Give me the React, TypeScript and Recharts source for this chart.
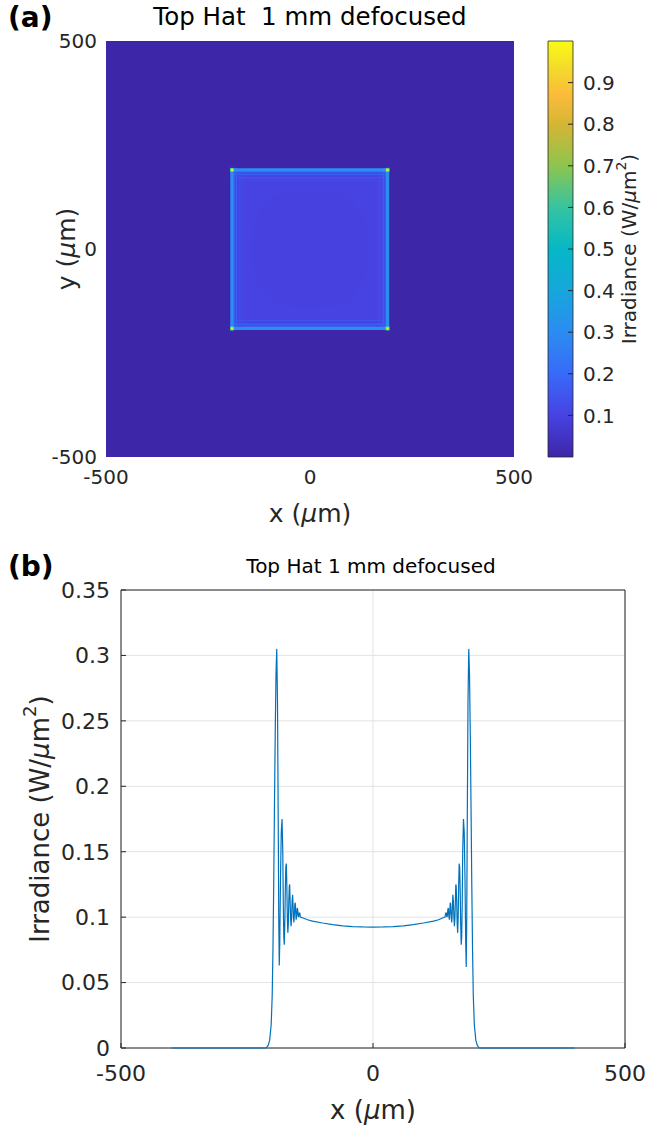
import React from 'react';
import {
  ScatterChart,
  Scatter,
  LineChart,
  ComposedChart,
  Line,
  XAxis,
  YAxis,
  CartesianGrid,
  ReferenceArea,
  Label,
} from 'recharts';

const FONT = '"DejaVu Sans", sans-serif';
const INK = '#262626';
const LINE_BLUE = '#0072bd';

// parula-like colour map (value -> colour)
const parulaStops: [number, string][] = [
  [0.0, '#3e26a8'],
  [0.1, '#4742e2'],
  [0.2, '#386af9'],
  [0.3, '#2b8cf1'],
  [0.4, '#17a6dc'],
  [0.5, '#05b8c6'],
  [0.6, '#35c4a0'],
  [0.7, '#8dc54f'],
  [0.8, '#d6b534'],
  [0.87, '#fbbb3b'],
  [0.93, '#f4d82c'],
  [1.0, '#f9fb15'],
];

// ---- panel (a): 2D irradiance map, µm and W/µm²
const mapTicks = [-500, 0, 500];
const squareSide = [-195, 194];
const centerSide = [-140, 140];
const backgroundLevel = 0.0;
const interiorLevel = 0.1;
const centerLevel = 0.096;
// fringe lines along each edge, outermost (the edge itself) first
const fringeLow = [-191, -180.5, -172, -165.5];
const fringeHigh = [190, 179.5, 171, 164.5];
const fringeWidth = [7.5, 3, 2.5, 2];
const fringeLevel = [0.32, 0.18, 0.145, 0.125];
const edgeHaloLevel = 0.17;
const cornerLevel = 0.97;
const cornerHaloLevel = 0.6;

// colourbar
const barTicks = [0.1, 0.2, 0.3, 0.4, 0.5, 0.6, 0.7, 0.8, 0.9];
const barRange = [0, 1];

// ---- panel (b): cut through y = 0
const profileTicksX = [-500, 0, 500];
const profileTicksY = [0, 0.05, 0.1, 0.15, 0.2, 0.25, 0.3, 0.35];
const profileX = [
  -400, -212, -208, -205, -202, -200, -198.5, -197, -195.5, -194, -192.5, -191,
  -189.5, -188, -187, -186, -185, -183.5, -182, -180.5, -179, -178, -177, -176,
  -175, -174, -173, -172, -171, -170, -169, -168, -167, -166, -165.3, -164.5,
  -163.5, -162.5, -161.5, -160.5, -159.5, -158.7, -157.8, -157, -156, -155,
  -154.2, -153.4, -152.5, -151.5, -150.5, -149.5, -148.5, -147.5, -146.5,
  -145.3, -144, -140, -130, -120, -100, -80, -60, -40, -20, 0,
  20, 40, 60, 80, 100, 120, 130, 139, 143, 144.3, 145.5, 146.5, 147.5, 148.5,
  149.5, 150.5, 151.5, 152.4, 153.2, 154, 155, 156, 156.8, 157.7, 158.5, 159.5,
  160.5, 161.5, 162.5, 163.5, 164.3, 165, 166, 167, 168, 169, 170, 171, 172,
  173, 174, 175, 176, 177, 178, 179.5, 181, 182.5, 184, 185, 186, 187, 188.5,
  190, 191.5, 193, 194.5, 196, 197.5, 199, 201, 204, 207, 211, 400,
];
const profileY = [
  0, 0, 0.002, 0.006, 0.018, 0.04, 0.075, 0.125, 0.185, 0.24, 0.285, 0.305,
  0.265, 0.17, 0.1, 0.063, 0.08, 0.13, 0.165, 0.175, 0.15, 0.11, 0.085, 0.079,
  0.095, 0.12, 0.138, 0.141, 0.125, 0.1, 0.088, 0.095, 0.113, 0.124, 0.125, 0.113,
  0.099, 0.093, 0.1, 0.112, 0.117, 0.11, 0.099, 0.096, 0.102, 0.11,
  0.111, 0.104, 0.098, 0.101, 0.107, 0.106, 0.101, 0.1, 0.103,
  0.103, 0.1, 0.0995, 0.098, 0.097, 0.0955, 0.0943, 0.0934, 0.0928, 0.0925, 0.0924,
  0.0925, 0.0928, 0.0934, 0.0943, 0.0955, 0.097, 0.098, 0.0995, 0.1, 0.103, 0.103, 0.1, 0.101, 0.106,
  0.107, 0.101, 0.098, 0.104, 0.111, 0.11, 0.102, 0.096, 0.099, 0.11, 0.117, 0.112,
  0.1, 0.093, 0.099, 0.113, 0.125, 0.124, 0.113, 0.095, 0.088, 0.1, 0.125, 0.141, 0.138,
  0.12, 0.095, 0.079, 0.085, 0.11, 0.15, 0.175, 0.165, 0.13, 0.08, 0.062, 0.1, 0.17, 0.265,
  0.305, 0.285, 0.24, 0.185, 0.125, 0.075, 0.04, 0.018, 0.006, 0.002, 0, 0,
];

const profileData = profileX.map((x, i) => ({ x, y: profileY[i] }));
// the map extent as points, so the axes get a domain to work with
const mapExtent = mapTicks.map((t) => ({ x: t, y: t }));
const barExtent = barRange.map((v) => ({ x: v, v }));

function hexToRgb(h: string) {
  return [1, 3, 5].map((i) => parseInt(h.slice(i, i + 2), 16));
}

function parula(v: number) {
  const t = Math.max(0, Math.min(1, v));
  for (let i = 1; i < parulaStops.length; i++) {
    const [p1, c1] = parulaStops[i];
    const [p0, c0] = parulaStops[i - 1];
    if (t <= p1) {
      const f = (t - p0) / (p1 - p0);
      const a = hexToRgb(c0);
      const b = hexToRgb(c1);
      const c = a.map((ch, k) => Math.round(ch + (b[k] - ch) * f));
      return `rgb(${c[0]},${c[1]},${c[2]})`;
    }
  }
  return parulaStops[parulaStops.length - 1][1];
}

type Cell = { x1: number; x2: number; y1: number; y2: number; v: number; r?: number };

function buildCells(): Cell[] {
  const cells: Cell[] = [];
  const a = mapTicks[0];
  const b = mapTicks[mapTicks.length - 1];
  cells.push({ x1: a, x2: b, y1: a, y2: b, v: backgroundLevel });
  cells.push({ x1: squareSide[0], x2: squareSide[1], y1: squareSide[0], y2: squareSide[1], v: interiorLevel });
  cells.push({ x1: centerSide[0], x2: centerSide[1], y1: centerSide[0], y2: centerSide[1], v: centerLevel, r: 45 });

  const lo = squareSide[0];
  const hi = squareSide[1];
  // soft glow just inside each edge
  cells.push({ x1: lo, x2: fringeLow[0] + 7, y1: lo, y2: hi, v: edgeHaloLevel });
  cells.push({ x1: fringeHigh[0] - 7, x2: hi, y1: lo, y2: hi, v: edgeHaloLevel });
  cells.push({ x1: lo, x2: hi, y1: lo, y2: fringeLow[0] + 7, v: edgeHaloLevel });
  cells.push({ x1: lo, x2: hi, y1: fringeHigh[0] - 7, y2: hi, v: edgeHaloLevel });
  for (let i = fringeLow.length - 1; i >= 0; i--) {
    const w = fringeWidth[i] / 2;
    const v = fringeLevel[i];
    for (const c of [fringeLow[i], fringeHigh[i]]) {
      cells.push({ x1: c - w, x2: c + w, y1: lo, y2: hi, v });
      cells.push({ x1: lo, x2: hi, y1: c - w, y2: c + w, v });
    }
  }
  for (const cx of [fringeLow[0], fringeHigh[0]]) {
    for (const cy of [fringeLow[0], fringeHigh[0]]) {
      cells.push({ x1: cx - 5, x2: cx + 5, y1: cy - 5, y2: cy + 5, v: cornerHaloLevel });
      cells.push({ x1: cx - 3, x2: cx + 3, y1: cy - 3, y2: cy + 3, v: cornerLevel });
    }
  }
  return cells;
}

const mapCells = buildCells();

const tickStyle = (size: number) => ({ fill: INK, fontSize: size, fontFamily: FONT });

// "Irradiance (W/µm²)" rotated, centred on (cx, cy)
function irradianceText(cx: number, cy: number, size: number) {
  const sup = Math.round(size * 0.42);
  return (
    <text
      x={cx}
      y={cy}
      transform={`rotate(-90 ${cx} ${cy})`}
      textAnchor="middle"
      dominantBaseline="central"
      fill={INK}
      fontSize={size}
      fontFamily={FONT}
    >
      Irradiance (W/
      <tspan fontStyle="italic">µ</tspan>m
      <tspan fontSize={size * 0.7} dy={-sup}>2</tspan>
      <tspan dy={sup}>)</tspan>
    </text>
  );
}

function micronText(cx: number, cy: number, size: number, rotate: boolean) {
  return (
    <text
      x={cx}
      y={cy}
      transform={rotate ? `rotate(-90 ${cx} ${cy})` : undefined}
      textAnchor="middle"
      dominantBaseline="central"
      fill={INK}
      fontSize={size}
      fontFamily={FONT}
    >
      {rotate ? 'y (' : 'x ('}
      <tspan fontStyle="italic">µ</tspan>m)
    </text>
  );
}

const pos = (left: number, top: number): React.CSSProperties => ({
  position: 'absolute',
  left,
  top,
});

export default function App() {
  return (
    <div
      style={{
        position: 'absolute',
        left: 0,
        top: 0,
        width: 663,
        height: 1126,
        background: '#fff',
        fontFamily: FONT,
        overflow: 'hidden',
      }}
    >
      {/* panel letters and titles */}
      <div style={{ ...pos(8, 3), fontSize: 28, fontWeight: 'bold', lineHeight: '30px' }}>(a)</div>
      <div
        style={{ ...pos(110, 5), width: 400, textAlign: 'center', fontSize: 24.5, lineHeight: '24px', whiteSpace: 'pre' }}
      >
        {'Top Hat  1 mm defocused'}
      </div>
      <div style={{ ...pos(8, 552), fontSize: 28, fontWeight: 'bold', lineHeight: '30px' }}>(b)</div>
      <div
        style={{ ...pos(171, 556), width: 400, textAlign: 'center', fontSize: 20, lineHeight: '20px' }}
      >
        Top Hat 1 mm defocused
      </div>

      {/* colourbar */}
      <div style={pos(540, 0)}>
        <ComposedChart
          width={123}
          height={540}
          data={barExtent}
          margin={{ top: 41, right: 0, bottom: 83, left: 8 }}
        >
          <defs>
            <linearGradient id="parulaBar" x1="0" y1="1" x2="0" y2="0">
              {parulaStops.map(([p, c]) => (
                <stop key={p} offset={`${p * 100}%`} stopColor={c} />
              ))}
            </linearGradient>
          </defs>
          <XAxis type="number" dataKey="x" domain={barRange} hide />
          <ReferenceArea
            x1={barRange[0]}
            x2={barRange[1]}
            y1={barRange[0]}
            y2={barRange[1]}
            fill="url(#parulaBar)"
            fillOpacity={1}
            stroke={INK}
            strokeWidth={0.8}
          />
          <YAxis
            orientation="right"
            type="number"
            domain={barRange}
            ticks={barTicks}
            interval={0}
            axisLine={false}
            tickLine={{ stroke: INK }}
            tickSize={-5}
            tickMargin={15}
            width={90}
            tick={tickStyle(20)}
          >
            <Label content={(p: any) => irradianceText(p.viewBox.x + 56, p.viewBox.y + p.viewBox.height / 2, 20)} />
          </YAxis>
          <Line dataKey="v" stroke="none" dot={false} isAnimationActive={false} />
        </ComposedChart>
      </div>

      {/* (a) irradiance map */}
      <div style={pos(0, 0)}>
        <ScatterChart width={545} height={540} margin={{ top: 41, right: 31, bottom: 33, left: 0 }}>
          <XAxis
            type="number"
            dataKey="x"
            domain={[-500, 500]}
            ticks={mapTicks}
            interval={0}
            axisLine={false}
            tickLine={false}
            tickSize={0}
            tickMargin={13}
            height={50}
            tick={tickStyle(20)}
          >
            <Label
              content={(p: any) =>
                micronText(p.viewBox.x + p.viewBox.width / 2, p.viewBox.y + 56, 25, false)
              }
            />
          </XAxis>
          <YAxis
            type="number"
            dataKey="y"
            domain={[-500, 500]}
            ticks={mapTicks}
            interval={0}
            axisLine={false}
            tickLine={false}
            tickSize={0}
            tickMargin={9}
            width={106}
            tick={tickStyle(20)}
          >
            <Label
              content={(p: any) => micronText(p.viewBox.x + 66, p.viewBox.y + p.viewBox.height / 2, 25, true)}
            />
          </YAxis>
          {mapCells.map((c, i) => (
            <ReferenceArea
              key={i}
              x1={c.x1}
              x2={c.x2}
              y1={c.y1}
              y2={c.y2}
              fill={parula(c.v)}
              fillOpacity={1}
              stroke="none"
              radius={c.r}
            />
          ))}
          <Scatter data={mapExtent} fill="none" shape={() => <g />} isAnimationActive={false} />
        </ScatterChart>
      </div>

      {/* (b) profile */}
      <div style={pos(0, 540)}>
        <LineChart
          width={663}
          height={586}
          data={profileData}
          margin={{ top: 50, right: 38, bottom: 18, left: 10 }}
        >
          <CartesianGrid stroke="#e3e3e3" strokeWidth={1} />
          <XAxis
            type="number"
            dataKey="x"
            domain={[-500, 500]}
            ticks={profileTicksX}
            interval={0}
            axisLine={false}
            tickLine={{ stroke: INK }}
            tickSize={-5}
            tickMargin={22}
            height={60}
            tick={tickStyle(22)}
          >
            <Label
              content={(p: any) =>
                micronText(p.viewBox.x + p.viewBox.width / 2, p.viewBox.y + 62, 26, false)
              }
            />
          </XAxis>
          <YAxis
            type="number"
            domain={[0, 0.35]}
            ticks={profileTicksY}
            interval={0}
            axisLine={false}
            tickLine={{ stroke: INK }}
            tickSize={-5}
            tickMargin={16}
            width={111}
            tick={tickStyle(22)}
          >
            <Label content={(p: any) => irradianceText(p.viewBox.x + 30, p.viewBox.y + p.viewBox.height / 2, 26)} />
          </YAxis>
          <ReferenceArea
            x1={-500}
            x2={500}
            y1={0}
            y2={0.35}
            fill="none"
            stroke={INK}
            strokeWidth={1}
          />
          <Line
            type="linear"
            dataKey="y"
            stroke={LINE_BLUE}
            strokeWidth={1.2}
            dot={false}
            isAnimationActive={false}
          />
        </LineChart>
      </div>
    </div>
  );
}
